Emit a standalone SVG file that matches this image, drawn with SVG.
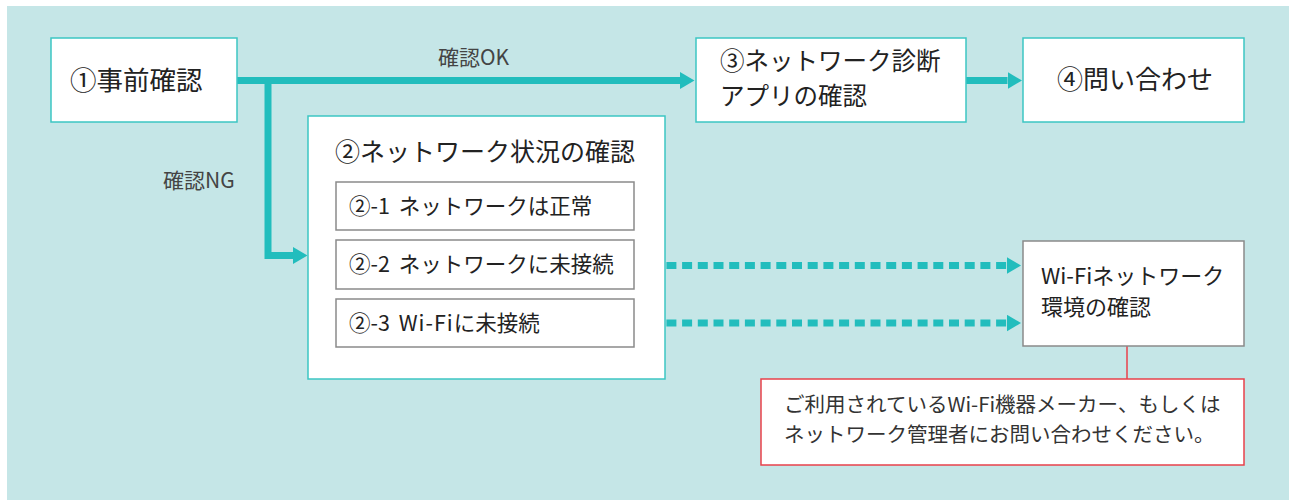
<svg xmlns="http://www.w3.org/2000/svg" width="1289" height="500" viewBox="0 0 1289 500">
<style>
text{font-family:"Noto Sans CJK JP","Noto Sans",sans-serif;fill:#222}
.lbl{font-size:21px;fill:#444}
.tb{fill:#fff;stroke:#3cc6c3;stroke-width:1.5}
.gb{fill:#fff;stroke:#8a8a8a;stroke-width:1.5}
.rb{fill:#fff;stroke:#e8414b;stroke-width:1.5}
.big{font-size:25px}
.sub{font-size:21.5px;word-spacing:4px}
.wf{font-size:22px}
.note{font-size:20.5px;fill:#333}
.conn{fill:none;stroke:#22bdbd;stroke-width:7}
.dot{stroke-dasharray:10 5.7}
</style>
<defs>
<marker id="ah" markerUnits="userSpaceOnUse" markerWidth="16" markerHeight="18" refX="0" refY="8.5" orient="auto">
<path d="M0,0 L14.5,8.5 L0,17 z" fill="#22bdbd"/>
</marker>
</defs>
<rect x="7" y="6" width="1282" height="494" fill="#c5e6e7"/>
<g id="connectors">
<path class="conn" d="M237,80.5 H680" marker-end="url(#ah)"/>
<path class="conn" d="M268,84 V255.5 H293" stroke-linejoin="miter" marker-end="url(#ah)"/>
<path class="conn" d="M966,80.5 H1007.5" marker-end="url(#ah)"/>
<path class="conn dot" d="M635,265.5 H1006.5" marker-end="url(#ah)"/>
<path class="conn dot" d="M635,323 H1006.5" marker-end="url(#ah)"/>
<line x1="1127" y1="346" x2="1127" y2="379" stroke="#e8414b" stroke-width="1.5"/>
<text class="lbl" x="438" y="65">確認OK</text>
<text class="lbl" x="163" y="188">確認NG</text>
</g>
<g id="n1">
<rect class="tb" x="51" y="38" width="186" height="84"/>
<text x="70" y="90" style="font-size:26.5px">①事前確認</text>
</g>
<g id="n3">
<rect class="tb" x="696" y="38" width="270" height="84"/>
<text x="720" y="70" style="font-size:24.5px">③ネットワーク診断</text>
<text x="720" y="105" style="font-size:24.5px">アプリの確認</text>
</g>
<g id="n4">
<rect class="tb" x="1023" y="38" width="221" height="84"/>
<text x="1057" y="89" style="font-size:26px">④問い合わせ</text>
</g>
<g id="n2">
<rect class="tb" x="308" y="116" width="357" height="263"/>
<text class="big" x="335" y="161">②ネットワーク状況の確認</text>
</g>
<g id="n2-1">
<rect class="gb" x="336" y="182" width="298" height="48"/>
<text class="sub" x="349" y="214">②-1 ネットワークは正常</text>
</g>
<g id="n2-2">
<rect class="gb" x="336" y="240" width="298" height="49"/>
<text class="sub" x="349" y="272">②-2 ネットワークに未接続</text>
</g>
<g id="n2-3">
<rect class="gb" x="336" y="299" width="298" height="48"/>
<text class="sub" x="349" y="331">②-3 <tspan letter-spacing="1">Wi-Fi</tspan>に未接続</text>
</g>
<g id="nwifi">
<rect class="gb" x="1023" y="241" width="221" height="105"/>
<text class="wf" x="1041" y="284">Wi-Fiネットワーク</text>
<text class="wf" x="1041" y="315">環境の確認</text>
</g>
<g id="nnote">
<rect class="rb" x="761" y="379" width="483" height="86"/>
<text class="note" x="784" y="412">ご利用されているWi-Fi機器メーカー、もしくは</text>
<text class="note" x="784" y="442">ネットワーク管理者にお問い合わせください。</text>
</g>
</svg>
